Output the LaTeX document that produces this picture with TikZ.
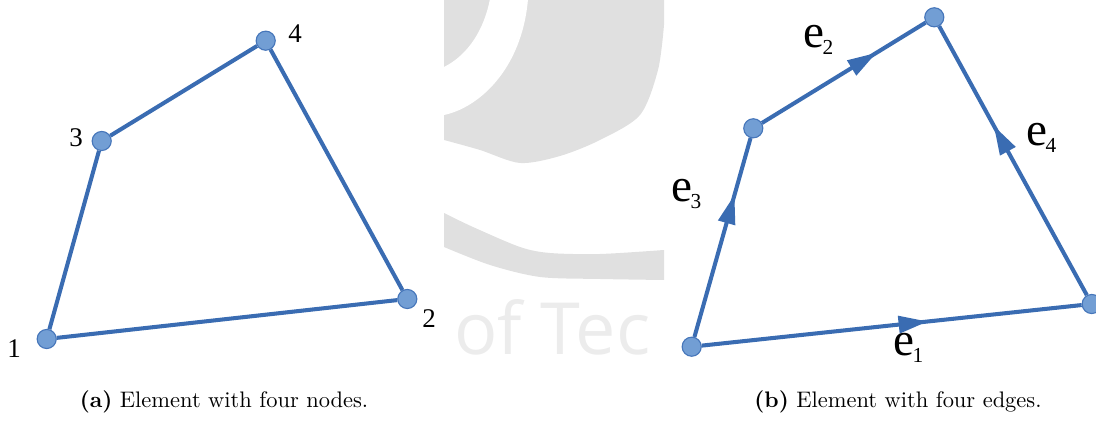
\documentclass[tikz,border=0pt]{standalone}
\usepackage{fontspec}
\usepackage{tikz}
\usetikzlibrary{arrows.meta,decorations.markings}
\newfontfamily\figfont{Liberation Serif}
\newfontfamily\markfont{Open Sans}
\definecolor{EdgeBlue}{RGB}{58,108,178}
\definecolor{NodeBlue}{RGB}{114,158,212}
\definecolor{NodeRim}{RGB}{70,118,186}
\definecolor{MarkGray}{RGB}{224,224,224}
\definecolor{MarkText}{RGB}{236,236,236}
\newcommand{\edgename}[1]{{\figfont\fontsize{21}{21}\selectfont e}\kern-0.8pt\raisebox{-3pt}{\figfont\fontsize{9.5}{9.5}\selectfont #1}}

\begin{document}
\begin{tikzpicture}[
x=0.445pt,y=-0.445pt,
vertex/.style={
circle,
draw=NodeRim,
fill=NodeBlue,
line width=0.5pt,
minimum size=8.5pt,
inner sep=0pt
},
edge/.style={EdgeBlue,line width=1.8pt},
flow/.style={edge,postaction={decorate},
decoration={markings,mark=at position #1 with {\arrow{Triangle[length=13pt,width=7.5pt]}}}},
numlabel/.style={font=\figfont\fontsize{12}{12}\selectfont,anchor=base,inner sep=0pt},
edgelabel/.style={anchor=base west,inner sep=0pt},
caption/.style={anchor=base,inner sep=0pt}
]
\useasboundingbox (0,0) rectangle (1096,426);

% faded logo behind the pictures
\begin{scope}
\clip (444,0) rectangle (664,380);
\fill[MarkGray] (444,0) -- (664,0) -- plot[smooth] coordinates {(664,25) (658,70) (640,115) (600,140) (560,156) (520,163) (480,150) (444,140)} -- cycle;
\fill[white] (490,-1) .. controls (484,30) and (468,55) .. (444,67) -- (444,115) .. controls (478,108) and (522,70) .. (528,-1) -- cycle;
\fill[MarkGray] plot[smooth] coordinates {(444,213) (473,227) (520,247) (550,253) (600,254) (664,250)} -- (664,280) -- plot[smooth] coordinates {(664,280) (600,279) (540,277) (490,265) (444,247)} -- cycle;
\node[font=\markfont\fontsize{32}{32}\selectfont,text=MarkText,anchor=base west,inner sep=0pt] (logo) at (454,355) {of Tec};
\end{scope}

% (a) nodes
\node[vertex] (a1) at (46.7,339) {};
\node[vertex] (a2) at (407.3,299) {};
\node[vertex] (a3) at (101.7,141) {};
\node[vertex] (a4) at (265.7,40.7) {};
\draw[edge] (a1) -- (a2) -- (a4) -- (a3) -- (a1);
\node[numlabel] (n1) at (14,358) {1};
\node[numlabel] (n2) at (429,328) {2};
\node[numlabel] (n3) at (76,147) {3};
\node[numlabel] (n4) at (295,43) {4};

% (b) edges
\node[vertex] (b1) at (691.7,346.7) {};
\node[vertex] (b2) at (1091.7,304) {};
\node[vertex] (b3) at (753.3,128.3) {};
\node[vertex] (b4) at (934.3,17.3) {};
\draw[flow=0.595] (b1) -- (b2);
\draw[flow=0.70] (b3) -- (b4);
\draw[flow=0.715] (b1) -- (b3);
\draw[flow=0.63] (b2) -- (b4);
\node[edgelabel] (e1) at (893,356) {\edgename{1}};
\node[edgelabel] (e2) at (803,48) {\edgename{2}};
\node[edgelabel] (e3) at (671,202) {\edgename{3}};
\node[edgelabel] (e4) at (1026,146) {\edgename{4}};

\node[caption] (capa) at (224,408) {\textbf{(a)} Element with four nodes.};
\node[caption] (capb) at (898,408) {\textbf{(b)} Element with four edges.};
\end{tikzpicture}
\end{document}
